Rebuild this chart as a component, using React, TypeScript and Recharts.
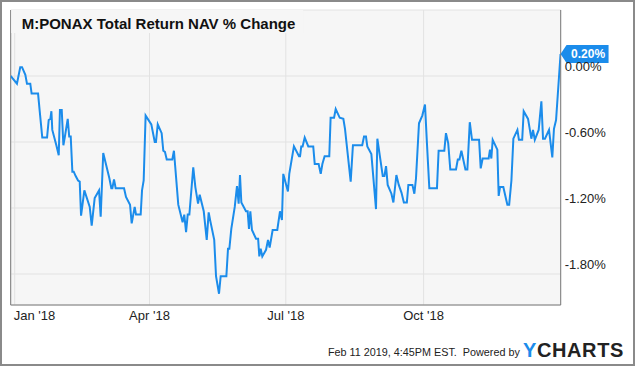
import React from "react";
import {
  LineChart,
  Line,
  XAxis,
  YAxis,
  CartesianGrid,
  ReferenceLine,
  ReferenceDot,
} from "recharts";

// Days since Jan 1 2018 and NAV total return % change
const days: number[] = [
  -2.7, 1.5, 3.7, 4.9, 7.1, 8.2, 10.4, 11.3, 15.6, 16.7, 18.4, 21.6, 22.7, 23.8, 24.5, 25.1, 27.8, 29.4, 30.2, 31.4,
  32.5, 33.4, 35.4, 36.4, 37.4, 38.5, 39.4, 40.7, 42.3, 43.4, 44.3, 46.5, 50.1, 51.4, 53.4, 56.3, 57.4, 59.1, 63.2, 64.5,
  65.2, 66.3, 67.4, 73.0, 74.3, 77.0, 78.1, 80.1, 81.0, 84.1, 85.0, 86.1, 87.4, 91.2, 93.5, 94.3, 95.5, 98.1, 99.2, 100.3,
  101.5, 105.2, 106.3, 109.2, 112.1, 113.2, 114.4, 115.5, 116.6, 119.2, 120.6, 122.4, 123.5, 126.2, 128.2, 129.5, 130.6, 133.2, 134.4, 136.4,
  137.5, 141.3, 142.4, 143.3, 144.6, 146.9, 148.4, 149.5, 150.4, 151.3, 154.4, 155.5, 156.4, 157.3, 158.4, 161.1, 162.5, 163.3, 164.2, 165.3,
  167.8, 169.1, 170.2, 172.2, 175.3, 177.1, 178.4, 179.3, 182.4, 183.3, 186.4, 189.8, 190.5, 191.3, 192.2, 193.6, 196.0, 199.3, 200.3, 202.9,
  204.3, 205.4, 206.9, 210.0, 210.9, 213.2, 214.3, 217.0, 219.4, 220.5, 224.3, 225.8, 232.0, 233.2, 234.5, 235.4, 238.1, 241.2, 242.1, 245.7,
  246.8, 247.9, 249.0, 251.5, 252.8, 254.8, 256.4, 258.2, 259.8, 261.8, 262.8, 265.5, 266.8, 267.9, 269.9, 272.1, 273.9, 275.2, 276.8, 281.9,
  283.0, 286.8, 287.9, 289.4, 290.8, 294.6, 295.8, 296.9, 298.2, 300.9, 302.2, 303.8, 305.3, 310.0, 311.1, 312.4, 316.4, 317.3, 318.2, 319.1,
  322.2, 323.1, 324.0, 326.2, 328.2, 328.9, 330.1, 331.6, 332.9, 335.6, 336.6, 338.8, 339.8, 342.7, 344.9, 346.0, 347.2, 349.8, 351.6, 352.7,
  354.0, 356.7, 358.9, 360.0, 361.4, 364.4,
];

const navChange: number[] = [
  0.0, -0.07, 0.08, 0.08, 0.01, -0.07, -0.07, -0.16, -0.16, -0.32, -0.56, -0.56, -0.4, -0.39, -0.32, -0.49, -0.63, -0.72, -0.31, -0.31,
  -0.63, -0.56, -0.39, -0.55, -0.55, -0.87, -0.87, -0.91, -0.95, -0.96, -1.27, -1.04, -1.19, -1.36, -1.11, -1.04, -1.28, -0.7, -0.93, -1.02,
  -1.02, -0.94, -1.02, -1.02, -1.1, -1.17, -1.34, -1.19, -1.26, -1.26, -1.04, -0.95, -0.36, -0.44, -0.6, -0.6, -0.44, -0.52, -0.68, -0.69,
  -0.76, -0.76, -0.68, -1.17, -1.33, -1.26, -1.42, -1.26, -1.26, -0.83, -1.01, -1.16, -1.08, -1.23, -1.49, -1.24, -1.32, -1.49, -1.82, -1.98,
  -1.82, -1.82, -1.57, -1.57, -1.39, -1.19, -1.0, -1.16, -0.9, -1.15, -1.23, -1.23, -1.39, -1.23, -1.4, -1.48, -1.48, -1.64, -1.57, -1.64,
  -1.58, -1.49, -1.56, -1.4, -1.4, -1.23, -1.31, -0.89, -1.05, -0.89, -0.64, -0.73, -0.73, -0.64, -0.64, -0.56, -0.64, -0.64, -0.8, -0.8,
  -0.89, -0.8, -0.73, -0.73, -0.38, -0.38, -0.3, -0.38, -0.39, -0.48, -0.96, -0.63, -0.63, -0.55, -0.55, -0.64, -0.71, -1.21, -0.57, -0.91,
  -0.91, -0.82, -0.99, -1.07, -1.15, -0.9, -0.99, -1.06, -1.15, -1.15, -0.99, -0.99, -1.07, -0.93, -0.43, -0.36, -0.26, -0.61, -1.02, -1.02,
  -0.68, -0.68, -0.52, -0.61, -0.85, -0.85, -0.76, -0.76, -0.68, -0.85, -0.85, -0.42, -0.58, -0.58, -0.84, -0.75, -0.75, -0.67, -0.75, -0.58,
  -0.67, -1.09, -1.01, -1.01, -1.13, -1.17, -1.17, -0.95, -0.57, -0.49, -0.58, -0.58, -0.32, -0.39, -0.57, -0.49, -0.58, -0.49, -0.23, -0.57,
  -0.57, -0.49, -0.74, -0.48, -0.4, 0.2,
];

const xTickDays: number[] = [0, 90, 181, 273];
const xTickLabels: string[] = ["Jan '18", "Apr '18", "Jul '18", "Oct '18"];
const yTicks: number[] = [-1.8, -1.2, -0.6, 0];

const title = "M:PONAX Total Return NAV % Change";
const footerText = "Feb 11 2019, 4:45PM EST.  Powered by";

const data = days.map((d, i) => ({ day: d, value: navChange[i] }));
const last = data[data.length - 1];

const BLUE = "#1b8ceb";
const FONT = "'Liberation Sans', Arial, sans-serif";

const XTick = (props: any) => {
  const { x, y, payload } = props;
  const idx = xTickDays.indexOf(payload.value);
  return (
    <text
      x={idx === 0 ? x - 1 : x}
      y={y + 7}
      textAnchor={idx === 0 ? "start" : "middle"}
      fontSize={13}
      fontFamily={FONT}
      fill="#222"
    >
      {xTickLabels[idx]}
    </text>
  );
};

const YTick = (props: any) => {
  const { x, y, payload } = props;
  return (
    <text x={x - 4} y={y - 5} textAnchor="start" fontSize={13} fontFamily={FONT} fill="#222">
      {Number(payload.value).toFixed(2) + "%"}
    </text>
  );
};

const Badge = (props: any) => {
  const { cx, cy } = props;
  if (cx == null || cy == null) return null;
  const l = cx + 6;
  const r = cx + 48;
  const t = cy - 9;
  const b = cy + 9;
  return (
    <g>
      <path d={`M${cx},${cy} L${l},${t} L${r},${t} L${r},${b} L${l},${b} Z`} fill={BLUE} />
      <text
        x={cx + 27.5}
        y={cy + 4.5}
        textAnchor="middle"
        fontSize={12}
        fontWeight="bold"
        fontFamily={FONT}
        fill="#fff"
      >
        {last.value.toFixed(2) + "%"}
      </text>
    </g>
  );
};

export default function App() {
  return (
    <div style={{ position: "absolute", left: 0, top: 0, width: 635, height: 366, background: "#fff" }}>
      <LineChart
        width={635}
        height={366}
        data={data}
        margin={{ top: 10, right: 0, bottom: 0, left: 10.7 }}
      >
        <CartesianGrid fill="#f6f6f6" stroke="#e2e2e2" />
        <XAxis
          dataKey="day"
          type="number"
          domain={[-2.67, 364.5]}
          ticks={xTickDays}
          tick={<XTick />}
          tickLine={false}
          axisLine={{ stroke: "#7a7a7a" }}
          height={61}
          allowDataOverflow
        />
        <YAxis
          orientation="right"
          type="number"
          domain={[-2.082, 0.6]}
          ticks={yTicks}
          tick={<YTick />}
          tickLine={false}
          axisLine={{ stroke: "#7a7a7a" }}
          width={74.3}
          allowDataOverflow
        />
        <ReferenceLine x={-2.67} stroke="#7a7a7a" ifOverflow="visible" />
        <Line
          type="linear"
          dataKey="value"
          stroke={BLUE}
          strokeWidth={2}
          dot={false}
          isAnimationActive={false}
        />
        <ReferenceDot x={last.day} y={last.value} ifOverflow="visible" shape={<Badge />} />
      </LineChart>
      <svg
        width={635}
        height={366}
        style={{ position: "absolute", left: 0, top: 0, pointerEvents: "none" }}
      >
        <rect x={11.2} y={10} width={292} height={23} fill="#f6f6f6" />
        <text x={21.7} y={28.5} fontSize={15} fontWeight="bold" fontFamily={FONT} fill="#111">
          {title}
        </text>
        <text
          x={328}
          y={356}
          fontSize={10.8}
          fontFamily={FONT}
          fill="#222"
          style={{ whiteSpace: "pre" }}
        >
          {footerText}
        </text>
        <text x={523} y={356.7} fontSize={20} fontWeight="bold" fontFamily={FONT} letterSpacing={0.6}>
          <tspan fill={BLUE}>Y</tspan>
          <tspan fill="#222">CHARTS</tspan>
        </text>
        <rect x={1} y={1} width={633} height={364} fill="none" stroke="#8a8a8a" strokeWidth={2} />
      </svg>
    </div>
  );
}
